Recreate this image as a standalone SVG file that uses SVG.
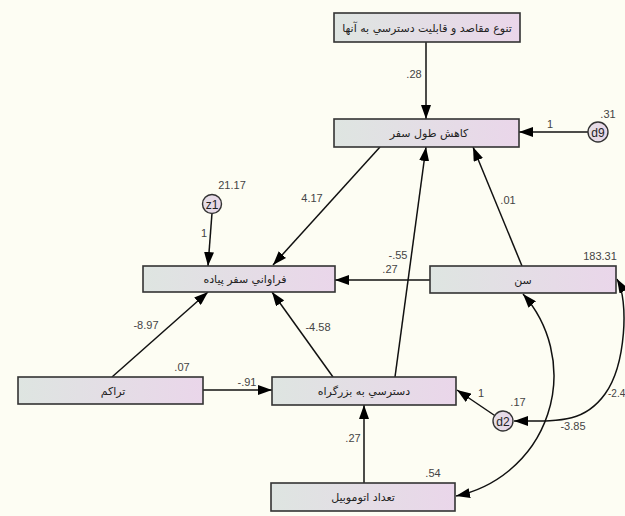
<svg xmlns="http://www.w3.org/2000/svg" width="625" height="516" viewBox="0 0 625 516">
<defs>
<linearGradient id="bg" x1="0" y1="0" x2="1" y2="0">
<stop offset="0" stop-color="#dee5e1"/>
<stop offset="1" stop-color="#ead6ea"/>
</linearGradient>
<linearGradient id="cg" x1="0" y1="0" x2="1" y2="0">
<stop offset="0" stop-color="#e4dfe6"/>
<stop offset="1" stop-color="#e8d6e8"/>
</linearGradient>
<marker id="ah" viewBox="0 0 14 10" refX="14" refY="5" markerWidth="14" markerHeight="10" orient="auto-start-reverse" markerUnits="userSpaceOnUse">
<path d="M0,0 L14,5 L0,10 z" fill="#000"/>
</marker>
<style>
.box{fill:url(#bg);stroke:#333;stroke-width:1.6}
.circ{fill:url(#cg);stroke:#333;stroke-width:1.4}
.lbl{font-family:"DejaVu Sans","Noto Sans",sans-serif;font-size:11px;fill:#222;text-anchor:middle}
.cl{font-family:"Liberation Sans",Arial,sans-serif;font-size:12px;fill:#222;text-anchor:middle}
.num{font-family:"Liberation Sans",Arial,sans-serif;font-size:11px;fill:#444;text-anchor:middle}
.ln{stroke:#111;stroke-width:1.5;fill:none;marker-end:url(#ah)}
.dl{stroke:#111;stroke-width:1.5;fill:none;marker-end:url(#ah);marker-start:url(#ah)}
</style>
</defs>
<rect width="625" height="516" fill="#fdfdf3"/>

<g id="connectors">
<line class="ln" x1="426" y1="42" x2="426" y2="119"/>
<line class="ln" x1="588" y1="132" x2="519" y2="132"/>
<line class="ln" x1="380" y1="147" x2="273" y2="265"/>
<line class="ln" x1="212" y1="213" x2="208" y2="266"/>
<line class="ln" x1="395" y1="377" x2="426" y2="147"/>
<line class="ln" x1="522" y1="266" x2="473" y2="147"/>
<line class="ln" x1="430" y1="280" x2="335" y2="280"/>
<line class="ln" x1="112" y1="377" x2="208" y2="292"/>
<line class="ln" x1="333" y1="377" x2="272" y2="292"/>
<line class="ln" x1="203" y1="390" x2="272" y2="390"/>
<line class="ln" x1="494.7" y1="415.5" x2="457" y2="390"/>
<line class="ln" x1="364" y1="483" x2="364" y2="405"/>
<path class="dl" d="M523,294 A123,123 0 0 1 456,496"/>
<path class="dl" d="M617,279 C629,300 626,365 605,394 S 560,421 514,421"/>
</g>

<g id="n-diversity">
<rect class="box" x="334" y="13" width="186" height="29"/>
<text class="lbl" x="427" y="32">تنوع مقاصد و قابليت دسترسي به آنها</text>
</g>
<g id="n-triplength">
<rect class="box" x="334" y="119" width="185" height="28"/>
<text class="lbl" x="429" y="137">كاهش طول سفر</text>
</g>
<g id="n-walkfreq">
<rect class="box" x="143" y="266" width="192" height="26"/>
<text class="lbl" x="245" y="283">فراواني سفر پياده</text>
</g>
<g id="n-age">
<rect class="box" x="430" y="266" width="186" height="27"/>
<text class="lbl" x="523" y="284">سن</text>
</g>
<g id="n-density">
<rect class="box" x="18" y="377" width="185" height="27"/>
<text class="lbl" x="113" y="395">تراكم</text>
</g>
<g id="n-highway">
<rect class="box" x="272" y="377" width="184" height="28"/>
<text class="lbl" x="364" y="395">دسترسي به بزرگراه</text>
</g>
<g id="n-cars">
<rect class="box" x="271" y="483" width="184" height="28"/>
<text class="lbl" x="363" y="501">تعداد اتوموبيل</text>
</g>
<g id="n-d9">
<circle class="circ" cx="598" cy="132" r="10"/>
<text class="cl" x="598" y="136.5">d9</text>
</g>
<g id="n-z1">
<circle class="circ" cx="212" cy="204" r="9.5"/>
<text class="cl" x="212" y="208.5">z1</text>
</g>
<g id="n-d2">
<circle class="circ" cx="503" cy="421" r="10"/>
<text class="cl" x="503" y="425.5">d2</text>
</g>

<g id="labels">
<text class="num" x="414" y="78">.28</text>
<text class="num" x="550" y="128">1</text>
<text class="num" x="608" y="118">.31</text>
<text class="num" x="232" y="189">21.17</text>
<text class="num" x="312" y="202">4.17</text>
<text class="num" x="204" y="237">1</text>
<text class="num" x="398" y="259">-.55</text>
<text class="num" x="390" y="273">.27</text>
<text class="num" x="508" y="204">.01</text>
<text class="num" x="600" y="260">183.31</text>
<text class="num" x="146" y="329">-8.97</text>
<text class="num" x="318" y="331">-4.58</text>
<text class="num" x="182" y="371">.07</text>
<text class="num" x="247" y="386">-.91</text>
<text class="num" x="481" y="397">1</text>
<text class="num" x="518" y="406">.17</text>
<text class="num" x="573" y="430">-3.85</text>
<text class="num" x="353" y="442">.27</text>
<text class="num" x="433" y="477">.54</text>
<text class="num" x="608" y="397" style="text-anchor:start;font-size:10px">-2.4</text>
</g>
</svg>
